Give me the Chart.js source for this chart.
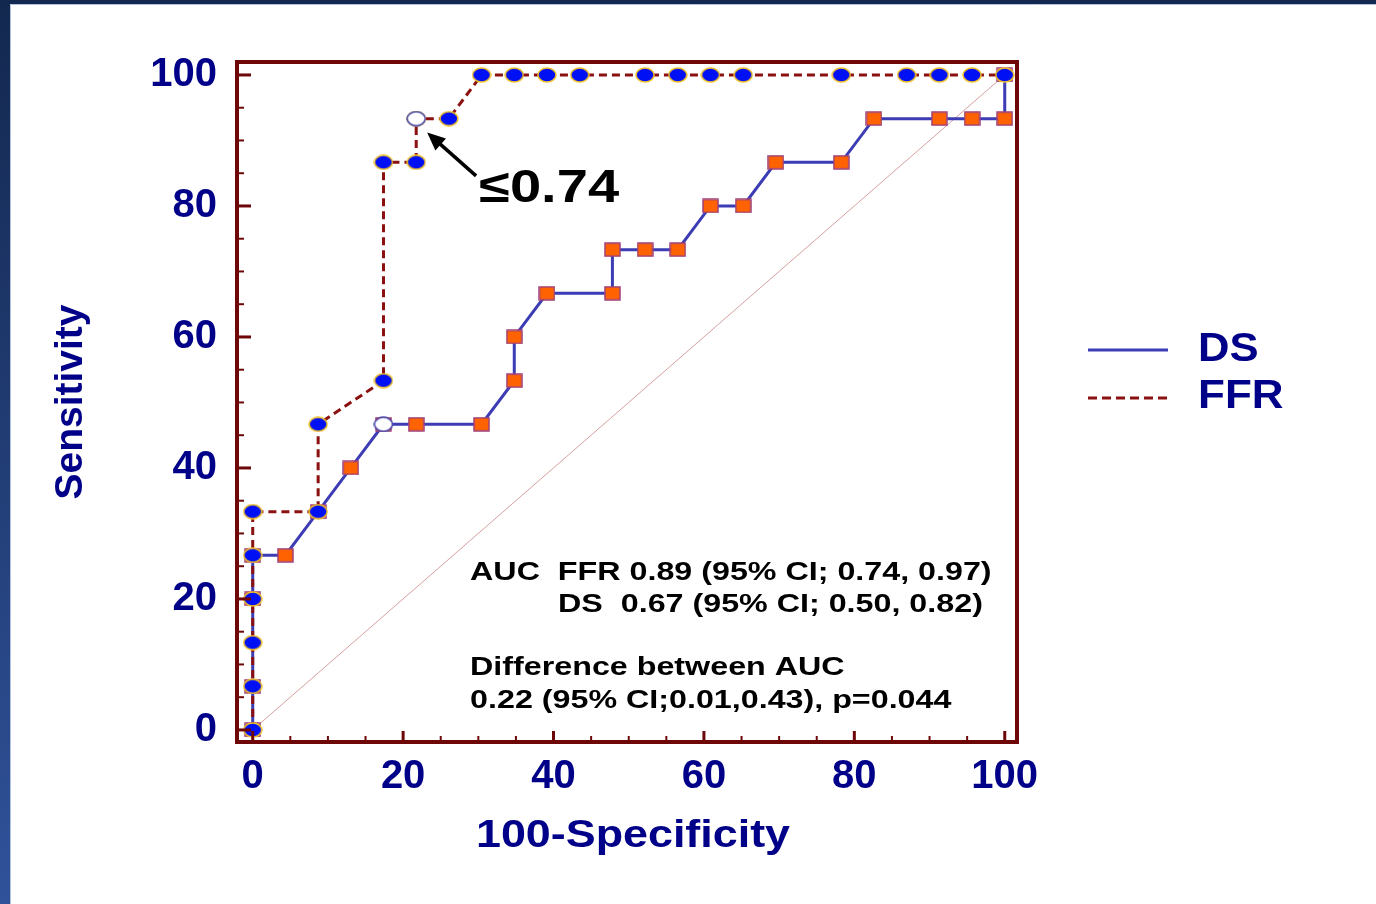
<!DOCTYPE html>
<html>
<head>
<meta charset="utf-8">
<script src="https://cdn.jsdelivr.net/npm/chart.js@4/dist/chart.umd.min.js"></script>
<style>
  html, body { margin: 0; padding: 0; background: #14294f; overflow: hidden; }
  #roc { position: absolute; left: 0; top: 0; }
</style>
</head>
<body>
<canvas id="roc" width="1376" height="904"></canvas>
<script>
// ROC curves, values (steps of 1/15 and 1/23)
const dsX  = [0, 0, 0, 0, 4.35, 8.7, 13.04, 17.39, 21.74, 30.43, 34.78, 34.78, 39.13, 47.83, 47.83, 52.17, 56.52, 60.87, 65.22, 69.57, 78.26, 82.61, 91.3, 95.65, 100, 100];
const dsY  = [0, 6.67, 20, 26.67, 26.67, 33.33, 40, 46.67, 46.67, 46.67, 53.33, 60, 66.67, 66.67, 73.33, 73.33, 73.33, 80, 80, 86.67, 86.67, 93.33, 93.33, 93.33, 93.33, 100];

const ffrX = [0, 0, 0, 0, 0, 0, 8.7, 8.7, 17.39, 17.39, 21.74, 21.74, 26.09, 30.43, 34.78, 39.13, 43.48, 52.17, 56.52, 60.87, 65.22, 78.26, 86.96, 91.3, 95.65, 100];
const ffrY = [0, 6.67, 13.33, 20, 26.67, 33.33, 33.33, 46.67, 53.33, 86.67, 86.67, 93.33, 93.33, 100, 100, 100, 100, 100, 100, 100, 100, 100, 100, 100, 100, 100];

// optimal criterion points (open circles)
const cutX = [17.39, 21.74];
const cutY = [46.67, 93.33];

const diagX = [0, 100];
const diagY = [0, 100];

const xTicks = [0, 20, 40, 60, 80, 100];
const yTicks = [0, 20, 40, 60, 80, 100];

const xTitle = "100-Specificity";
const yTitle = "Sensitivity";
const cutLabel = "\u22640.74";
const aucLines = [
  "AUC  FFR 0.89 (95% CI; 0.74, 0.97)",
  "DS  0.67 (95% CI; 0.50, 0.82)",
  "Difference between AUC",
  "0.22 (95% CI;0.01,0.43), p=0.044"
];

const NAVY = "#000088";
const FONT = "'Liberation Sans', Arial, sans-serif";

function pts(xs, ys) {
  return xs.map((x, i) => ({ x: x, y: ys[i] }));
}

// marker images (the picture is a bit wider than tall)
function ellipse(fill, stroke) {
  const c = document.createElement("canvas");
  c.width = 20; c.height = 16;
  const g = c.getContext("2d");
  g.beginPath();
  g.ellipse(10, 8, 9, 7, 0, 0, Math.PI * 2);
  g.fillStyle = fill;
  g.fill();
  g.lineWidth = 1.5;
  g.strokeStyle = stroke;
  g.stroke();
  return c;
}
function square() {
  const c = document.createElement("canvas");
  c.width = 17; c.height = 15;
  const g = c.getContext("2d");
  g.fillStyle = "#ff6200";
  g.fillRect(1, 1, 15, 13);
  g.lineWidth = 1.5;
  g.strokeStyle = "#a0407a";
  g.strokeRect(1, 1, 15, 13);
  return c;
}
const dot = ellipse("#0010f5", "#f2c22a");
const openDot = ellipse("#ffffff", "#4444aa");
const box = square();

// text in the slide is stretched sideways
function wideText(ctx, text, x, y, sx) {
  ctx.save();
  ctx.translate(x, y);
  ctx.scale(sx, 1);
  ctx.fillText(text, 0, 0);
  ctx.restore();
}

const decor = {
  id: "decor",
  beforeDraw(chart) {
    const ctx = chart.ctx;
    const w = chart.width, h = chart.height;
    const grad = ctx.createLinearGradient(0, 0, 0, h);
    grad.addColorStop(0, "#13284f");
    grad.addColorStop(1, "#30529a");
    ctx.save();
    ctx.fillStyle = grad;
    ctx.fillRect(0, 0, w, h);
    ctx.fillStyle = "#ffffff";
    ctx.fillRect(10, 4, w - 10, h - 4);
    ctx.strokeStyle = "#b4c0dc";
    ctx.lineWidth = 1;
    ctx.beginPath();
    ctx.moveTo(10.5, h); ctx.lineTo(10.5, 4.5); ctx.lineTo(w, 4.5);
    ctx.stroke();
    ctx.restore();
  },
  afterDatasetsDraw(chart) {
    const ctx = chart.ctx;
    const a = chart.chartArea;
    const xs = chart.scales.x, ys = chart.scales.y;
    ctx.save();

    // frame
    ctx.strokeStyle = "#6e0707";
    ctx.lineWidth = 4;
    ctx.strokeRect(a.left, a.top, a.right - a.left, a.bottom - a.top);

    // inward ticks, every 5, longer every 20
    for (let v = 0; v <= 100; v += 5) {
      const major = v % 20 === 0;
      ctx.lineWidth = major ? 3 : 2;
      const py = ys.getPixelForValue(v);
      ctx.beginPath();
      ctx.moveTo(a.left, py);
      ctx.lineTo(a.left + (major ? 14 : 7), py);
      ctx.stroke();
      const px = xs.getPixelForValue(v);
      ctx.beginPath();
      ctx.moveTo(px, a.bottom);
      ctx.lineTo(px, a.bottom - (major ? 11 : 6));
      ctx.stroke();
    }

    // arrow to the FFR criterion
    const tx = xs.getPixelForValue(23.2), ty = ys.getPixelForValue(91.2);
    const fx = xs.getPixelForValue(29.7), fy = ys.getPixelForValue(84.6);
    const ang = Math.atan2(ty - fy, tx - fx);
    ctx.strokeStyle = "#000000";
    ctx.fillStyle = "#000000";
    ctx.lineWidth = 3.5;
    ctx.beginPath();
    ctx.moveTo(fx, fy);
    ctx.lineTo(tx - 8 * Math.cos(ang), ty - 8 * Math.sin(ang));
    ctx.stroke();
    ctx.beginPath();
    ctx.moveTo(tx, ty);
    ctx.lineTo(tx - 18 * Math.cos(ang) + 8 * Math.sin(ang), ty - 18 * Math.sin(ang) - 8 * Math.cos(ang));
    ctx.lineTo(tx - 18 * Math.cos(ang) - 8 * Math.sin(ang), ty - 18 * Math.sin(ang) + 8 * Math.cos(ang));
    ctx.closePath();
    ctx.fill();

    ctx.textBaseline = "middle";
    ctx.textAlign = "left";
    ctx.font = "bold 46px " + FONT;
    wideText(ctx, cutLabel, xs.getPixelForValue(30.1), ys.getPixelForValue(82.5), 1.22);

    // AUC text
    ctx.font = "bold 25px " + FONT;
    wideText(ctx, aucLines[0], xs.getPixelForValue(28.9), ys.getPixelForValue(23.9), 1.29);
    wideText(ctx, aucLines[1], xs.getPixelForValue(40.6), ys.getPixelForValue(19.0), 1.29);
    wideText(ctx, aucLines[2], xs.getPixelForValue(28.9), ys.getPixelForValue(9.4), 1.29);
    wideText(ctx, aucLines[3], xs.getPixelForValue(28.9), ys.getPixelForValue(4.4), 1.29);

    // x axis title
    ctx.fillStyle = NAVY;
    ctx.textAlign = "center";
    ctx.font = "bold 39px " + FONT;
    wideText(ctx, xTitle, (a.left + a.right) / 2 + 6, 836, 1.15);

    // legend at the right
    ctx.lineWidth = 3;
    ctx.strokeStyle = "#3c3cb4";
    ctx.beginPath();
    ctx.moveTo(1088, 350); ctx.lineTo(1168, 350);
    ctx.stroke();
    ctx.strokeStyle = "#8b1010";
    ctx.setLineDash([9, 5]);
    ctx.beginPath();
    ctx.moveTo(1088, 398); ctx.lineTo(1168, 398);
    ctx.stroke();
    ctx.setLineDash([]);
    ctx.textAlign = "left";
    ctx.font = "bold 40px " + FONT;
    wideText(ctx, "DS", 1198, 350, 1.09);
    wideText(ctx, "FFR", 1198, 397, 1.1);

    ctx.restore();
  }
};

const tickFont = { family: FONT, weight: "bold", size: 40 };

new Chart(document.getElementById("roc"), {
  type: "scatter",
  data: {
    datasets: [
      {
        label: "Criterion",
        data: pts(cutX, cutY),
        pointStyle: openDot,
        showLine: false,
        order: -1
      },
      {
        label: "FFR",
        data: pts(ffrX, ffrY),
        showLine: true,
        borderColor: "#8b1010",
        borderWidth: 3,
        borderDash: [8, 5],
        pointStyle: dot,
        order: 0
      },
      {
        label: "DS",
        data: pts(dsX, dsY),
        showLine: true,
        borderColor: "#3c3cb4",
        borderWidth: 3,
        pointStyle: box,
        order: 1
      },
      {
        label: "Reference",
        data: pts(diagX, diagY),
        showLine: true,
        borderColor: "#d8a0a0",
        borderWidth: 1,
        pointRadius: 0,
        order: 2
      }
    ]
  },
  options: {
    responsive: false,
    animation: false,
    events: [],
    layout: { padding: { left: 0, top: 62, right: 359, bottom: 0 } },
    plugins: {
      legend: { display: false },
      tooltip: { enabled: false }
    },
    scales: {
      x: {
        type: "linear",
        min: -2.09,
        max: 101.63,
        afterBuildTicks: s => { s.ticks = xTicks.map(v => ({ value: v })); },
        afterFit: s => { s.height = 162; },
        grid: { display: false, drawTicks: false },
        border: { display: false },
        ticks: { padding: 11, font: tickFont, color: NAVY, maxRotation: 0, autoSkip: false },
        title: { display: false }
      },
      y: {
        type: "linear",
        min: -1.84,
        max: 101.98,
        afterBuildTicks: s => { s.ticks = yTicks.map(v => ({ value: v })); },
        afterFit: s => { s.width = 237; },
        grid: { display: false, drawTicks: false },
        border: { display: false },
        ticks: { padding: 20, font: tickFont, color: NAVY, autoSkip: false },
        title: { display: true, text: yTitle, color: NAVY, font: { family: FONT, weight: "bold", size: 39 }, padding: { top: 48, bottom: 0 } }
      }
    }
  },
  plugins: [decor]
});
</script>
</body>
</html>
